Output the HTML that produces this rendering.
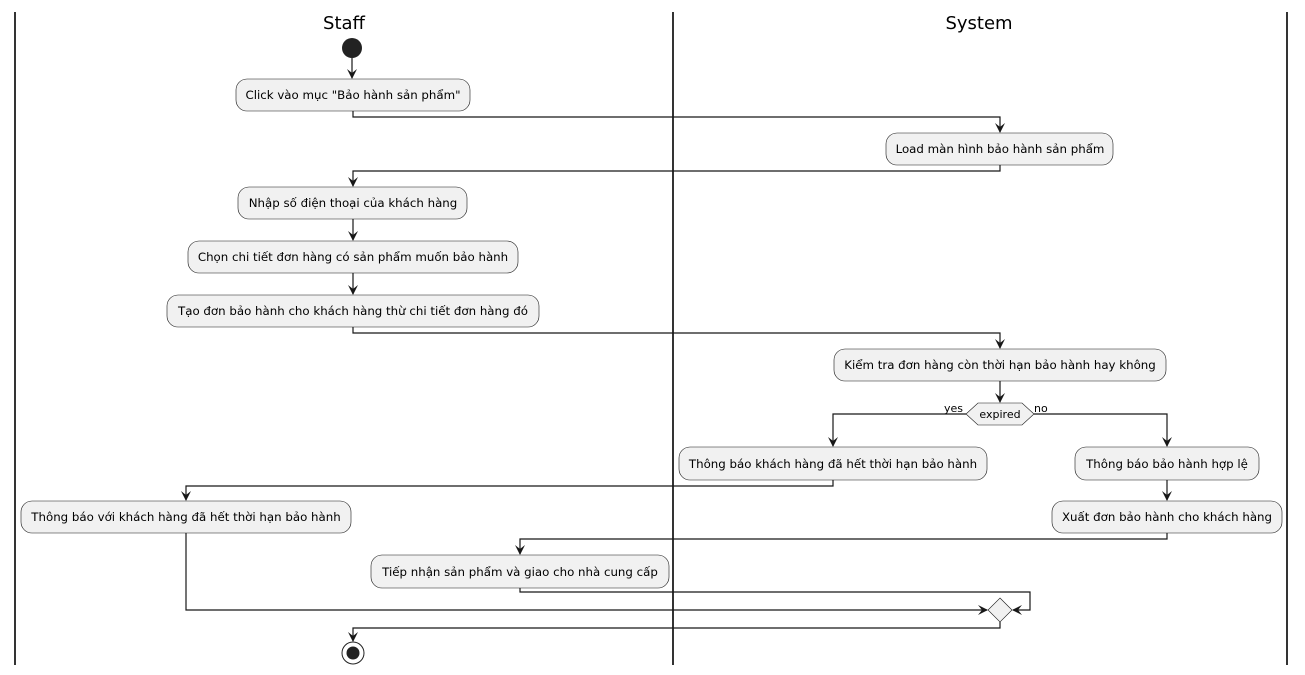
<!DOCTYPE html>
<html><head><meta charset="utf-8"><style>
html,body{margin:0;padding:0;background:#fff;}
svg{display:block;}
text{font-family:"DejaVu Sans","Liberation Sans",sans-serif;font-size:11.8px;fill:#000;}
.t{font-size:18px;}
.b{fill:#f1f1f1;stroke:#181818;stroke-width:0.6;}
.l{fill:none;stroke:#181818;stroke-width:1.2;}
</style></head><body>
<svg width="1305" height="675" viewBox="0 0 1305 675" xmlns="http://www.w3.org/2000/svg">
<defs>
<marker id="a" viewBox="0 0 10 10" refX="9" refY="5" markerWidth="10" markerHeight="10" orient="auto" markerUnits="userSpaceOnUse">
<path d="M0,0 L10,5 L0,10 L4,5 Z" fill="#181818"/>
</marker>
</defs>
<line x1="15" y1="12" x2="15" y2="665" stroke="#000" stroke-width="1.6"/>
<line x1="673" y1="12" x2="673" y2="665" stroke="#000" stroke-width="1.6"/>
<line x1="1287" y1="12" x2="1287" y2="665" stroke="#000" stroke-width="1.6"/>
<text class="t" x="344" y="29" text-anchor="middle">Staff</text>
<text class="t" x="979" y="29" text-anchor="middle">System</text>

<circle cx="352" cy="48" r="10" fill="#222"/>
<line class="l" x1="352" y1="58" x2="352" y2="78" marker-end="url(#a)"/>

<rect class="b" x="236" y="79" width="234" height="32" rx="11"/>
<text x="353" y="99" text-anchor="middle">Click vào mục "Bảo hành sản phẩm"</text>
<polyline class="l" points="353,111 353,117 1000,117 1000,132" marker-end="url(#a)"/>

<rect class="b" x="886" y="133" width="227" height="32" rx="11"/>
<text x="1000" y="153" text-anchor="middle">Load màn hình bảo hành sản phẩm</text>
<polyline class="l" points="1000,165 1000,171 353,171 353,186" marker-end="url(#a)"/>

<rect class="b" x="238" y="187" width="229" height="32" rx="11"/>
<text x="353" y="207" text-anchor="middle">Nhập số điện thoại của khách hàng</text>
<line class="l" x1="353" y1="219" x2="353" y2="240" marker-end="url(#a)"/>

<rect class="b" x="188" y="241" width="330" height="32" rx="11"/>
<text x="353" y="261" text-anchor="middle">Chọn chi tiết đơn hàng có sản phẩm muốn bảo hành</text>
<line class="l" x1="353" y1="273" x2="353" y2="294" marker-end="url(#a)"/>

<rect class="b" x="167" y="295" width="372" height="32" rx="11"/>
<text x="353" y="315" text-anchor="middle">Tạo đơn bảo hành cho khách hàng thừ chi tiết đơn hàng đó</text>
<polyline class="l" points="353,327 353,333 1000,333 1000,348" marker-end="url(#a)"/>

<rect class="b" x="834" y="349" width="332" height="32" rx="11"/>
<text x="1000" y="369" text-anchor="middle">Kiểm tra đơn hàng còn thời hạn bảo hành hay không</text>
<line class="l" x1="1000" y1="381" x2="1000" y2="402" marker-end="url(#a)"/>

<polygon class="b" points="966,414 978,403 1022,403 1034,414 1022,425 978,425"/>
<text x="1000" y="418" text-anchor="middle" style="font-size:11px">expired</text>
<text x="944" y="412" style="font-size:11px">yes</text>
<text x="1034" y="412" style="font-size:11px">no</text>
<polyline class="l" points="966,414 833,414 833,446" marker-end="url(#a)"/>
<polyline class="l" points="1034,414 1167,414 1167,446" marker-end="url(#a)"/>

<rect class="b" x="679" y="447" width="308" height="33" rx="11"/>
<text x="833" y="468" text-anchor="middle">Thông báo khách hàng đã hết thời hạn bảo hành</text>
<rect class="b" x="1075" y="447" width="184" height="33" rx="11"/>
<text x="1167" y="468" text-anchor="middle">Thông báo bảo hành hợp lệ</text>

<polyline class="l" points="833,480 833,486 186,486 186,500" marker-end="url(#a)"/>
<line class="l" x1="1167" y1="480" x2="1167" y2="500" marker-end="url(#a)"/>

<rect class="b" x="21" y="501" width="330" height="32" rx="11"/>
<text x="186" y="521" text-anchor="middle">Thông báo với khách hàng đã hết thời hạn bảo hành</text>
<rect class="b" x="1052" y="501" width="230" height="32" rx="11"/>
<text x="1167" y="521" text-anchor="middle">Xuất đơn bảo hành cho khách hàng</text>

<polyline class="l" points="1167,533 1167,539 520,539 520,554" marker-end="url(#a)"/>

<rect class="b" x="371" y="555" width="298" height="33" rx="11"/>
<text x="520" y="576" text-anchor="middle">Tiếp nhận sản phẩm và giao cho nhà cung cấp</text>

<polyline class="l" points="520,588 520,592 1030,592 1030,610 1013,610" marker-end="url(#a)"/>
<polyline class="l" points="186,533 186,610 987,610" marker-end="url(#a)"/>
<polygon class="b" points="1000,598 1012,610 1000,622 988,610"/>
<polyline class="l" points="1000,622 1000,628 353,628 353,641" marker-end="url(#a)"/>

<circle cx="353" cy="653" r="11" fill="#fff" stroke="#222" stroke-width="1"/>
<circle cx="353" cy="653" r="6.5" fill="#222"/>
</svg>
</body></html>
